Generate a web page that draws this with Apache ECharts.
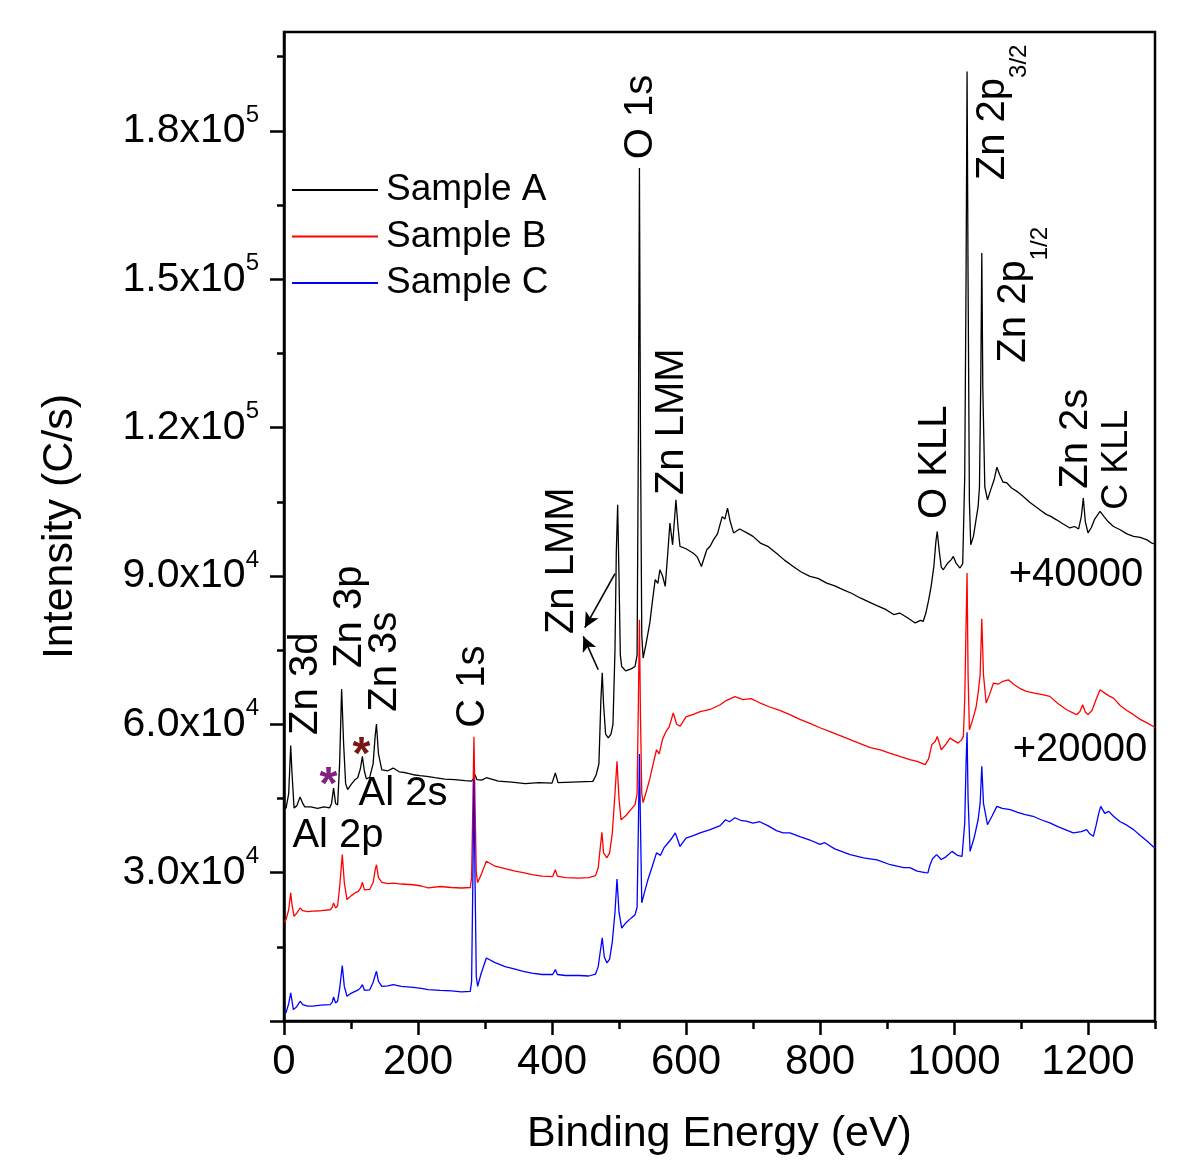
<!DOCTYPE html>
<html><head><meta charset="utf-8">
<script src="https://cdn.jsdelivr.net/npm/echarts@6/dist/echarts.min.js"></script>
<style>html,body{margin:0;padding:0;background:#fff}#c{width:1200px;height:1172px}</style>
</head><body><div id="c"></div>
<script>
const FONT = '"Liberation Sans", Arial, Helvetica, sans-serif';

// ---- data (values as plotted: Sample A shifted +40000, Sample B shifted +20000) ----
const seriesNames = ['Sample A', 'Sample B', 'Sample C'];
const seriesColors = ['#000000', '#ff0000', '#0000ff'];

const sampleA = [
[0,43500],[3,43000],[7,46000],[10,55700],[12,50000],[15,43100],[19,43500],[24,45300],[28,44000],[31,43300],
[40,43300],[50,43000],[60,43300],[68,43100],[71,44000],[74,47100],[77,44000],[80,43700],[83,52000],[86,67150],
[89,56000],[92,48000],[95,46800],[100,47800],[106,48800],[110,49200],[114,51000],[117,53500],[120,50500],[123,48950],
[128,49300],[133,52000],[136,57500],[138,60050],[141,54000],[146,50800],[155,50600],[163,51150],[172,50400],[182,50200],
[193,49800],[203,49600],[213,49450],[225,49200],[240,48900],[255,48800],[270,48600],[280,48500],[283,49000],[285,49800],
[288,48800],[295,48700],[302,49200],[320,48500],[340,48300],[360,48000],[380,48200],[400,48100],[405,50150],[409,48200],
[430,48300],[450,48400],[461,48450],[466,49800],[470,52000],[473,65000],[475,70400],[477,64000],[480,58000],[484,57250],
[488,58000],[491,60000],[494,75000],[496,95000],[498,104400],[500,90000],[502,74000],[504,71700],[510,70800],[518,71200],
[524,71700],[527,74000],[529,120000],[530.5,172500],[532,120000],[534,78000],[536,73400],[540,76000],[546,80500],[550,85000],
[554,89250],[558,88500],[561,91250],[565,90000],[569,87900],[573,95000],[576,100700],[580,96300],[585,105400],[588,100000],
[591,96000],[600,95500],[611,94600],[617,93800],[623,91900],[631,95300],[636,96000],[641,97300],[647,98500],[654,102000],
[658,101500],[662,103700],[666,101000],[671,98700],[680,99500],[691,98700],[700,98000],[711,96650],[722,96000],[735,94600],
[747,93200],[760,91900],[772,90800],[785,89900],[797,89500],[810,88550],[822,88000],[835,87200],[847,86500],[860,85550],
[872,84800],[885,84000],[897,83300],[910,82200],[919,82500],[930,81600],[942,80500],[950,81000],[954,80800],[958,82500],
[962,85000],[966,88000],[970,92000],[973,97000],[975,99000],[978,95000],[981,91800],[984,91250],[990,92500],[996,93300],
[999,93950],[1003,92600],[1009,91600],[1013,92500],[1016,110000],[1018,150000],[1019.5,192000],[1021,150000],[1023,105000],[1025,96300],
[1029,98000],[1033,101500],[1036,104000],[1038,108000],[1040,130000],[1041.5,155300],[1043,128000],[1046,108000],[1050,105400],[1055,107500],
[1060,109500],[1064,112000],[1068,110500],[1073,109000],[1079,108800],[1086,107800],[1095,107000],[1103,106100],[1112,105000],[1120,104200],
[1128,103400],[1137,102500],[1145,102000],[1153,101350],[1163,100500],[1173,99700],[1180,100000],[1186,99500],[1190,102000],[1193,105750],
[1196,101000],[1200,98700],[1205,99800],[1210,101500],[1218,103050],[1224,102000],[1230,101000],[1238,100000],[1248,99350],[1258,98500],
[1268,98000],[1278,97800],[1288,97300],[1295,96650],[1300,96500]
];

const sampleB = [
[0,20000],[3,20500],[7,22500],[10,25900],[12,23500],[15,21150],[19,21800],[24,22850],[28,22300],[35,22100],
[43,22200],[55,22300],[69,22500],[72,23000],[74,23850],[77,22850],[80,23300],[83,27000],[87,33650],[90,28000],
[94,24550],[100,25300],[106,25900],[111,26200],[114,26800],[117,28050],[120,26500],[122,26200],[128,26600],[133,28000],
[136,30500],[138,31600],[141,29000],[146,28050],[155,27800],[163,27900],[175,27700],[193,27550],[205,27300],[215,26900],
[233,27200],[250,27000],[265,26900],[278,27000],[280,29000],[282,45000],[283.5,57500],[285,45000],[287,30000],[289,28000],
[294,29500],[302,32300],[315,31300],[330,30800],[345,30300],[357,30000],[370,29600],[385,29300],[401,29200],[405,30600],
[408,29300],[420,29000],[440,28900],[455,29000],[465,29400],[469,31000],[472,35000],[474.5,38150],[477,34000],[482,33000],
[486,34000],[490,38000],[494,46000],[497,52500],[500,45000],[503,40700],[510,41500],[518,42800],[524,43750],[527,46000],
[529,65000],[530.5,81150],[532,62000],[534,46000],[536,44150],[541,46500],[546,49000],[551,52000],[556,54850],[560,54000],
[565,57000],[570,58500],[575,59500],[581,62300],[586,60000],[591,59600],[600,61500],[611,62000],[621,62550],[636,63000],
[651,63950],[660,64800],[673,65600],[685,65000],[697,65200],[710,64350],[725,63500],[740,62800],[755,61950],[770,61000],
[785,60200],[800,59300],[815,58500],[830,57700],[845,56900],[860,56100],[875,55300],[890,54850],[905,54100],[919,53500],
[934,52850],[945,52500],[957,51850],[962,53000],[967,55900],[972,56500],[975,57550],[981,54850],[988,56000],[994,57200],
[1000,56700],[1006,56200],[1011,56800],[1014,57550],[1016,65000],[1018,80000],[1019.5,90600],[1021,70000],[1023,58900],[1028,61000],
[1033,63500],[1036,66300],[1039,70000],[1041.5,81350],[1044,70000],[1048,64300],[1053,66000],[1059,68350],[1066,68100],[1073,68700],
[1081,69000],[1090,68000],[1099,67200],[1108,66650],[1120,66300],[1132,66000],[1143,65650],[1155,64200],[1168,62950],[1183,61950],
[1188,62600],[1192,63950],[1196,62500],[1200,61950],[1206,62800],[1212,65000],[1218,67000],[1225,66300],[1232,65700],[1238,65300],
[1248,63800],[1258,62800],[1268,61950],[1278,61000],[1288,60300],[1297,59600],[1300,59400]
];

const sampleC = [
[0,1300],[3,1700],[7,3500],[10,5700],[12,4000],[14,2300],[19,2900],[24,4000],[28,3300],[35,3000],
[43,3000],[55,3200],[69,3300],[72,3800],[74,4850],[77,3650],[80,4000],[83,6500],[87,11200],[90,7000],
[94,5000],[100,5600],[106,6000],[111,6300],[114,6700],[117,7350],[120,6200],[122,5800],[128,6300],[133,7800],
[136,9200],[138,10050],[141,8000],[146,7000],[155,7100],[163,7350],[175,7000],[193,6800],[205,6600],[215,6350],
[233,6200],[250,6100],[265,5900],[278,6000],[280,8000],[282,30000],[283.5,48800],[285,30000],[287,9000],[289,7000],
[294,9500],[302,12750],[315,11800],[330,11000],[345,10500],[357,10050],[370,9700],[385,9400],[401,9400],[405,10400],
[408,9400],[420,9200],[440,9200],[455,9100],[465,9500],[469,11000],[472,14000],[475,16800],[478,13000],[482,11750],
[486,12500],[490,16000],[494,22000],[497,28700],[500,22000],[504,18800],[510,19800],[518,20800],[524,21500],[527,23000],
[529,40000],[530.5,54000],[532,40000],[534,23900],[538,26000],[543,28500],[549,31000],[556,34000],[562,33500],[567,35000],
[573,36000],[578,36800],[584,38050],[588,36500],[591,35300],[600,37000],[611,37500],[621,38050],[636,38700],[651,39500],
[659,40700],[665,40300],[673,41100],[683,40500],[690,40400],[700,40000],[710,40300],[722,39500],[735,38500],[745,38050],
[755,38050],[770,37300],[785,36600],[800,35700],[807,36050],[822,34800],[845,33650],[865,33000],[885,32600],[905,31600],
[925,31000],[934,31000],[945,30300],[957,30000],[961,29950],[964,31500],[968,32800],[974,33650],[981,32650],[988,33200],
[997,34300],[1005,33500],[1012,33300],[1016,40000],[1018,52000],[1019.5,58400],[1021,45000],[1024,34300],[1030,37000],[1036,40700],
[1039,44000],[1041.5,51500],[1044,44000],[1050,39700],[1057,41500],[1064,43400],[1072,43000],[1084,42750],[1095,42200],[1105,41800],
[1118,41400],[1130,40700],[1143,40050],[1155,39300],[1166,38700],[1178,38050],[1190,38300],[1198,38700],[1203,37800],[1208,37350],
[1212,39500],[1216,42000],[1219,43400],[1225,42000],[1231,42400],[1238,41400],[1248,40300],[1258,39600],[1268,38700],[1278,37500],
[1288,36400],[1297,35300],[1300,35000]
];

// tick values
const xMajorTicks = [0, 200, 400, 600, 800, 1000, 1200];
const xMinorTicks = [100, 300, 500, 700, 900, 1100, 1300];
const yMajorTicks = [0, 30000, 60000, 90000, 120000, 150000, 180000];
const yLabelTicks = [30000, 60000, 90000, 120000, 150000, 180000];
const yMinorTicks = [15000, 45000, 75000, 105000, 135000, 165000, 195000];

// "Zn LMM" pointer arrows (from peak to label), in data units
const lmmArrows = [
  [[494, 90450], [449, 79530]],
  [[469, 71040], [446.7, 77770]]
];

// annotation anchors in data units (energy, intensity)
const annotations = [
  {t: 'Zn 3d', e: 32.8, v: 68200, rot: true},
  {t: 'Zn 3p', e: 98.5, v: 81750, rot: true},
  {t: 'Zn 3s', e: 150.7, v: 72650, rot: true},
  {t: 'Al 2p', e: 80.6, v: 37480, rot: false},
  {t: 'Al 2s', e: 177.6, v: 45970, rot: false},
  {t: 'C 1s', e: 281.3, v: 67600, rot: true},
  {t: 'Zn LMM', e: 414.9, v: 93075, rot: true},
  {t: 'O 1s', e: 532.8, v: 182830, rot: true},
  {t: 'Zn LMM', e: 579.1, v: 121180, rot: true},
  {t: 'O KLL', e: 971.6, v: 112990, rot: true},
  {t: '{m|Zn 2p}{s|3/2}', e: 1058.9, v: 183740, rot: true, rich: true},
  {t: '{m|Zn 2p}{s|1/2}', e: 1089.5, v: 146850, rot: true, rich: true},
  {t: 'Zn 2s', e: 1182, v: 117740, rot: true},
  {t: 'C KLL', e: 1243.3, v: 113500, rot: true, size: 36},
  {t: '+40000', e: 1182, v: 90245, rot: false},
  {t: '+20000', e: 1188, v: 54870, rot: false},
  {t: '*', e: 66.4, v: 47420, rot: false, color: '#80207f', star: true},
  {t: '*', e: 115.7, v: 53450, rot: false, color: '#7a1515', star: true}
];

function sciLabel(v) {
  if (!v) return '';
  const e = Math.floor(Math.log10(v) + 1e-9);
  const m = (v / Math.pow(10, e)).toFixed(1);
  return '{m|' + m + 'x10}{e|' + e + '}';
}

const chart = echarts.init(document.getElementById('c'), null, {renderer: 'canvas'});

const tickLine = {color: '#000', width: 2.5};
const option = {
  animation: false,
  backgroundColor: '#fff',
  textStyle: {fontFamily: FONT},
  grid: {left: 284, right: 45, top: 32, bottom: 151, show: true, borderColor: '#000', borderWidth: 2.5, backgroundColor: 'transparent'},
  legend: {
    data: seriesNames, orient: 'vertical', left: 292, top: 170, padding: 0,
    itemWidth: 86, itemHeight: 2, itemGap: 6.5, icon: 'rect',
    textStyle: {fontSize: 37, lineHeight: 40, color: '#000', fontFamily: FONT, padding: [0, 0, 0, 3]}
  },
  xAxis: [
    {
      type: 'value', position: 'bottom', min: 0, max: 1300, interval: 200,
      axisLine: {show: true, onZero: false, lineStyle: tickLine},
      axisTick: {show: true, inside: false, length: 14, lineStyle: tickLine, customValues: xMajorTicks},
      axisLabel: {customValues: xMajorTicks, fontSize: 42, color: '#000', margin: 20, fontFamily: FONT,
        formatter: function (v) { return String(v); }},
      splitLine: {show: false},
      name: 'Binding Energy (eV)', nameLocation: 'middle', nameGap: 92,
      nameTextStyle: {fontSize: 43, color: '#000', fontFamily: FONT}
    },
    {
      type: 'value', position: 'bottom', min: 0, max: 1300, interval: 100,
      axisLine: {show: false, onZero: false},
      axisTick: {show: true, inside: false, length: 8, lineStyle: tickLine, customValues: xMinorTicks},
      axisLabel: {show: false}, splitLine: {show: false}
    }
  ],
  yAxis: [
    {
      type: 'value', position: 'left', min: 0, max: 200000, interval: 30000,
      axisLine: {show: true, onZero: false, lineStyle: tickLine},
      axisTick: {show: true, inside: false, length: 14, lineStyle: tickLine, customValues: yMajorTicks},
      axisLabel: {
        customValues: yLabelTicks, margin: 25, formatter: sciLabel,
        rich: {
          m: {fontSize: 41, lineHeight: 56, color: '#000', fontFamily: FONT},
          e: {fontSize: 24, verticalAlign: 'top', color: '#000', fontFamily: FONT}
        }
      },
      splitLine: {show: false},
      name: 'Intensity (C/s)', nameLocation: 'middle', nameGap: 202,
      nameTextStyle: {fontSize: 43, color: '#000', fontFamily: FONT}
    },
    {
      type: 'value', position: 'left', min: 0, max: 200000, interval: 15000,
      axisLine: {show: false, onZero: false},
      axisTick: {show: true, inside: false, length: 7, lineStyle: tickLine, customValues: yMinorTicks},
      axisLabel: {show: false}, splitLine: {show: false}
    }
  ],
  series: [sampleA, sampleB, sampleC].map(function (d, i) {
    const s = {
      name: seriesNames[i], type: 'line', data: d, xAxisIndex: 0, yAxisIndex: 0,
      symbol: 'none', showSymbol: false, smooth: false,
      lineStyle: {color: seriesColors[i], width: 1.3},
      itemStyle: {color: seriesColors[i]},
      emphasis: {disabled: true}
    };
    if (i === 0) {
      s.markLine = {
        silent: true, symbol: ['none', 'arrow'], symbolSize: [11, 15],
        lineStyle: {color: '#000', width: 1.6, type: 'solid'},
        label: {show: false}, emphasis: {disabled: true},
        data: lmmArrows.map(function (a) { return [{coord: a[0]}, {coord: a[1]}]; })
      };
    }
    return s;
  })
};
chart.setOption(option);

const graphics = annotations.map(function (a) {
  const p = chart.convertToPixel({gridIndex: 0}, [a.e, a.v]);
  const style = {
    text: a.t, fill: a.color || '#000', align: 'center', verticalAlign: 'middle',
    fontFamily: FONT, fontSize: a.size || 40
  };
  if (a.star) { style.fontSize = 46; style.fontWeight = 'bold'; }
  if (a.rich) {
    style.rich = {
      m: {fontSize: 40, fontFamily: FONT, fill: '#000', lineHeight: 40},
      s: {fontSize: 24, fontFamily: FONT, fill: '#000', verticalAlign: 'bottom', lineHeight: 76}
    };
  }
  return {type: 'text', x: p[0], y: p[1], rotation: a.rot ? Math.PI / 2 : 0, silent: true, z: 100, style: style};
});
chart.setOption({graphic: graphics});
</script>
</body></html>
